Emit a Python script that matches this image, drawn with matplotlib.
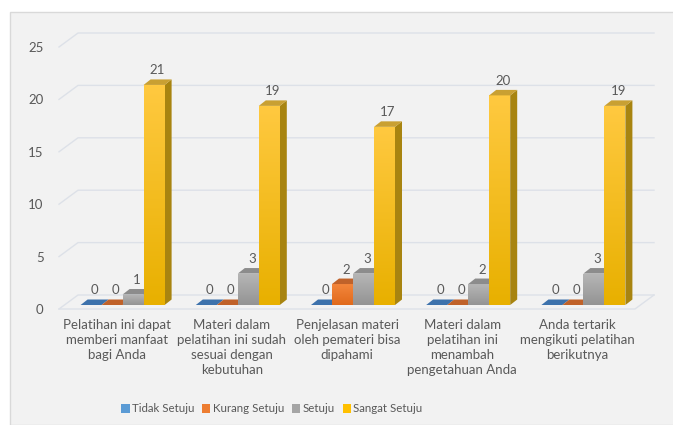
import matplotlib.pyplot as plt
import matplotlib.patches as mpatches
import matplotlib.colors as mcolors
import numpy as np

categories = ["Pelatihan ini dapat\nmemberi manfaat\nbagi Anda",
              "Materi dalam\npelatihan ini sudah\nsesuai dengan\nkebutuhan",
              "Penjelasan materi\noleh pemateri bisa\ndipahami",
              "Materi dalam\npelatihan ini\nmenambah\npengetahuan Anda",
              "Anda tertarik\nmengikuti pelatihan\nberikutnya"]
series_names = ["Tidak Setuju", "Kurang Setuju", "Setuju", "Sangat Setuju"]
tidak_setuju = [0, 0, 0, 0, 0]
kurang_setuju = [0, 0, 2, 0, 0]
setuju = [1, 3, 3, 2, 3]
sangat_setuju = [21, 19, 17, 20, 19]
y_ticks = [0, 5, 10, 15, 20, 25]

plt.rcParams['font.family'] = ['Lato', 'DejaVu Sans']
txt_col = '#595959'
grid_col = '#dde1e8'

# colours: (front top, front bottom, top face, side face, legend)
styles = [('#4a7fba', '#41719c', '#3d72ac', '#2f5a88', '#5b9bd5'),
          ('#f4863c', '#e06a1c', '#c0622a', '#a0501c', '#ed7d31'),
          ('#b6b6b6', '#949494', '#8c8c8c', '#767676', '#a5a5a5'),
          ('#ffc940', '#e8b000', '#c9a032', '#a88410', '#ffc000')]

fig = plt.figure(figsize=(6.73, 4.25), dpi=100)
W, H = 673, 425
# chart area background
fig.patches.append(mpatches.Rectangle((10 / W, 0), 1, 1 - 12 / H, transform=fig.transFigure,
                                      facecolor='#f2f2f2', edgecolor='#d9d9d9', lw=1, zorder=-5))

ax = fig.add_axes([59 / W, 116 / H, 576 / W, 262 / H])
ax.set_zorder(2)
ax.set_xlim(-0.5, 4.5)
ax.set_ylim(0, 25)
ax.patch.set_alpha(0)
for s in ax.spines.values():
    s.set_visible(False)
px = 5 / 576   # data units per pixel, x
py = 25 / 262  # data units per pixel, y

ax.set_xticks([])
ax.set_yticks(y_ticks)
ax.set_yticklabels([str(t) for t in y_ticks], color=txt_col, fontsize=9.5)
ax.tick_params(axis='y', length=0, pad=11)

# back wall gridlines with 3D diagonals
bdx, bdy = 19 * px, 14 * py
for t in y_ticks:
    ax.plot([-0.5, -0.5 + bdx, 4.5 + bdx], [t, t + bdy, t + bdy], color=grid_col, lw=1,
            clip_on=False, zorder=1)
# floor front edge
ax.plot([-0.5, 4.5, 4.5 + bdx], [0, 0, bdy], color=grid_col, lw=1, clip_on=False, zorder=1)

values = [tidak_setuju, kurang_setuju, setuju, sangat_setuju]
w = 21 * px
shift = 6 * px
base = 4 * py
ddx, ddy = 7 * px, 5.5 * py

for i in range(len(categories)):
    for j, vals in enumerate(values):
        v = vals[i]
        ftop, fbot, ctop, cside, _ = styles[j]
        xl = i - 2 * w + j * w + shift
        z = 3 + j
        # side face
        side = mpatches.Polygon([(xl + w, base), (xl + w + ddx, base + ddy),
                                 (xl + w + ddx, base + v + ddy), (xl + w, base + v)],
                                closed=True, facecolor=cside, edgecolor='none', zorder=z)
        ax.add_patch(side)
        # front face with vertical gradient
        if v > 0:
            front = mpatches.Rectangle((xl, base), w, v, facecolor='none', edgecolor='none', zorder=z)
            ax.add_patch(front)
            grad = np.linspace(0, 1, 64).reshape(-1, 1)
            c1 = np.array(mcolors.to_rgb(ftop))
            c2 = np.array(mcolors.to_rgb(fbot))
            img = c1[None, None, :] * (1 - grad[..., None]) + c2[None, None, :] * grad[..., None]
            im = ax.imshow(img, extent=(xl, xl + w, base, base + v), aspect='auto',
                           zorder=z, interpolation='bilinear')
            im.set_clip_path(front)
        # top face
        top = mpatches.Polygon([(xl, base + v), (xl + w, base + v),
                                (xl + w + ddx, base + v + ddy), (xl + ddx, base + v + ddy)],
                               closed=True, facecolor=ctop, edgecolor='none', zorder=z)
        ax.add_patch(top)
        ax.text(xl + w / 2 + ddx / 2, base + v + ddy + 3 * py, str(v), ha='center', va='bottom',
                color=txt_col, fontsize=9.5, zorder=10)

ax.set_xlim(-0.5, 4.5)
ax.set_ylim(0, 25)

for i, lab in enumerate(categories):
    ax.text(i, -10 * py, lab, ha='center', va='top', color=txt_col, fontsize=9.5,
            linespacing=1.3)

handles = [mpatches.Patch(facecolor=s[4], edgecolor='none') for s in styles]
fig.legend(handles, series_names, loc='center', bbox_to_anchor=(272 / W, 1 - 409 / H), ncol=4,
           frameon=False, fontsize=8.3, handlelength=0.7, handleheight=0.7, handletextpad=0.2,
           columnspacing=0.7, labelcolor=txt_col)

fig.savefig('out.png', dpi=100)
